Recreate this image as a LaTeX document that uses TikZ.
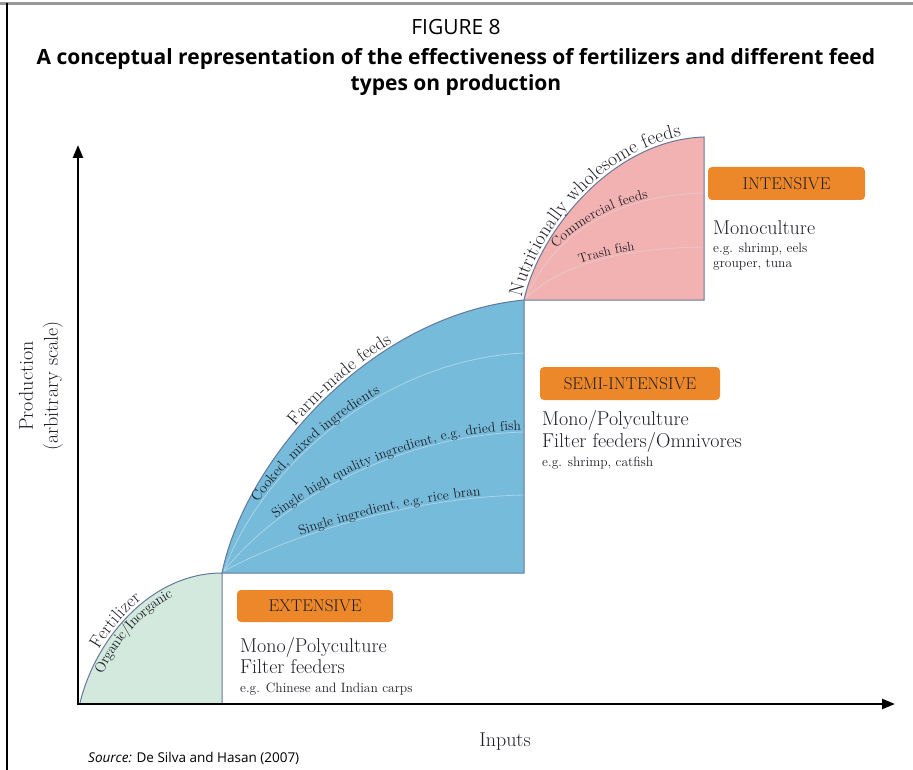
\documentclass[tikz,border=0pt]{standalone}
\usepackage{fontspec}
\newfontfamily\titlefont{Open Sans}
\usetikzlibrary{arrows.meta,decorations.text}
\definecolor{blueF}{RGB}{118,187,218}
\definecolor{greenF}{RGB}{212,233,222}
\definecolor{pinkF}{RGB}{242,178,178}
\definecolor{orangeF}{RGB}{237,136,42}
\definecolor{edgeC}{RGB}{100,120,155}
\definecolor{txt}{RGB}{30,30,40}
\definecolor{blueL}{RGB}{170,212,233}
\definecolor{pinkL}{RGB}{232,200,200}
\tikzset{
  region/.style={draw=edgeC, line width=1pt},
  innerline/.style={line width=0.8pt},
  axis/.style={line width=2.4pt, -{Triangle[length=13pt,width=10pt]}},
  obox/.style={fill=orangeF, rounded corners=4pt, inner sep=0pt, text=txt, font=\fontsize{17}{17}\selectfont},
  bigtxt/.style={anchor=base west, inner sep=0pt, text=txt, font=\fontsize{20}{20}\selectfont},
  smalltxt/.style={anchor=base west, inner sep=0pt, text=txt, font=\fontsize{13.5}{13.5}\selectfont},
}
\begin{document}
\begin{tikzpicture}[x=1pt,y=-1pt]
\useasboundingbox (0,0) rectangle (913,770);
% frame
\draw[line width=3pt, gray!80] (0,4) -- (913,4);
\draw[line width=1.3pt, black] (7,3) -- (7,770);
% title
\node[font=\titlefont\fontsize{21}{21}\selectfont, anchor=base] (fig) at (456,35) {FIGURE 8};
\node[font=\titlefont\bfseries\fontsize{21}{21}\selectfont, anchor=base] (t1) at (456,65) {A conceptual representation of the effectiveness of fertilizers and different feed};
\node[font=\titlefont\bfseries\fontsize{21}{21}\selectfont, anchor=base] (t2) at (456,91) {types on production};
% regions
\fill[greenF] (80,703) .. controls (95,640) and (150,573) .. (222,573) -- (222,703) -- cycle;
\draw[region] (80,703) .. controls (95,640) and (150,573) .. (222,573) -- (222,703);
\fill[blueF] (222,573) .. controls (245,460) and (370,315) .. (524,300) -- (524,573) -- cycle;
\draw[innerline, blueL] (224,571) .. controls (260,470) and (380,360) .. (524,353);
\draw[innerline, blueL] (224,571) .. controls (280,500) and (400,435) .. (524,432);
\draw[innerline, blueL] (224,571) .. controls (300,530) and (420,497) .. (524,495);
\draw[region] (222,573) .. controls (245,460) and (370,315) .. (524,300) -- (524,573) -- cycle;
\fill[pinkF] (524,300) .. controls (538,235) and (610,140) .. (704,137) -- (704,300) -- cycle;
\draw[innerline, pinkL] (526,298) .. controls (550,240) and (610,195) .. (704,193);
\draw[innerline, pinkL] (526,298) .. controls (560,265) and (620,248) .. (704,247);
\draw[region] (524,300) .. controls (538,235) and (610,140) .. (704,137) -- (704,300) -- cycle;
% curved labels
\path[decorate, decoration={text along path, text={|\fontsize{18}{18}\selectfont\color{txt}|Fertilizer}, text align={left indent=56pt}, raise=3pt}] (80,703) .. controls (95,640) and (150,573) .. (222,573);
\path[decorate, decoration={text along path, text={|\fontsize{14.5}{14.5}\selectfont\color{txt}|Organic/Inorganic}, text align={left indent=36pt}, raise=-12pt}] (80,703) .. controls (95,640) and (150,573) .. (222,573);
\path[decorate, decoration={text along path, text={|\fontsize{18.5}{18.5}\selectfont\color{txt}|Farm-made feeds}, text align={left indent=165pt}, raise=3pt}] (222,573) .. controls (245,460) and (370,315) .. (524,300);
\path[decorate, decoration={text along path, text={|\fontsize{14.5}{14.5}\selectfont\color{txt}|Cooked, mixed ingredients}, text align={left indent=76pt}, raise=2pt}] (224,571) .. controls (260,470) and (380,360) .. (524,353);
\path[decorate, decoration={text along path, text={|\fontsize{13.8}{13.8}\selectfont\color{txt}|Single high quality ingredient, e.g. dried fish}, text align={left indent=74pt}, raise=2pt}] (224,571) .. controls (280,500) and (400,435) .. (524,432);
\path[decorate, decoration={text along path, text={|\fontsize{13.8}{13.8}\selectfont\color{txt}|Single ingredient, e.g. rice bran}, text align={left indent=84pt}, raise=2pt}] (224,571) .. controls (300,530) and (420,497) .. (524,495);
\path[decorate, decoration={text along path, text={|\fontsize{19.5}{19.5}\selectfont\color{txt}|Nutritionally wholesome feeds}, text align={left indent=2pt}, raise=3pt}] (524,300) .. controls (538,235) and (610,140) .. (704,137);
\path[decorate, decoration={text along path, text={|\fontsize{14}{14}\selectfont\color{txt}|Commercial feeds}, text align={left indent=58pt}, raise=2pt}] (526,298) .. controls (550,240) and (610,195) .. (704,193);
\path[decorate, decoration={text along path, text={|\fontsize{13}{13}\selectfont\color{txt}|Trash fish}, text align={left indent=64pt}, raise=2pt}] (526,298) .. controls (560,265) and (620,248) .. (704,247);
% category boxes
\node[obox, minimum width=157pt, minimum height=33pt] (int) at (786.5,183.5) {INTENSIVE};
\node[bigtxt] (intA) at (713,235) {Monoculture};
\node[smalltxt] (intB) at (713,252) {e.g. shrimp, eels};
\node[smalltxt] (intC) at (713,268) {grouper, tuna};
\node[obox, minimum width=180pt, minimum height=33pt] (semi) at (630,383.5) {SEMI-INTENSIVE};
\node[bigtxt] (semiA) at (542,425) {Mono/Polyculture};
\node[bigtxt] (semiB) at (542,447) {Filter feeders/Omnivores};
\node[smalltxt] (semiC) at (542,466) {e.g. shrimp, catfish};
\node[obox, minimum width=156pt, minimum height=32pt] (ext) at (315,606) {EXTENSIVE};
\node[bigtxt] (extA) at (240,652) {Mono/Polyculture};
\node[bigtxt] (extB) at (240,673) {Filter feeders};
\node[smalltxt] (extC) at (240,692) {e.g. Chinese and Indian carps};
% axes
\coordinate (orig) at (78,704);
\coordinate (ytip) at (78,145);
\coordinate (xtip) at (895,704);
\draw[axis] (78,705.2) -- (ytip);
\draw[axis] (76.8,704) -- (xtip);
\node[text=txt, font=\fontsize{20}{20}\selectfont, anchor=base] (xlab) at (505,746) {Inputs};
\node[text=txt, font=\fontsize{20}{25}\selectfont, align=center, rotate=90] (ylab) at (41,386) {Production\\(arbitrary scale)};
% source
\node[font=\titlefont\fontsize{13.5}{13.5}\selectfont, anchor=base west, inner sep=0pt] (src) at (88,762) {\textit{Source:} De Silva and Hasan (2007)};
\end{tikzpicture}
\end{document}
